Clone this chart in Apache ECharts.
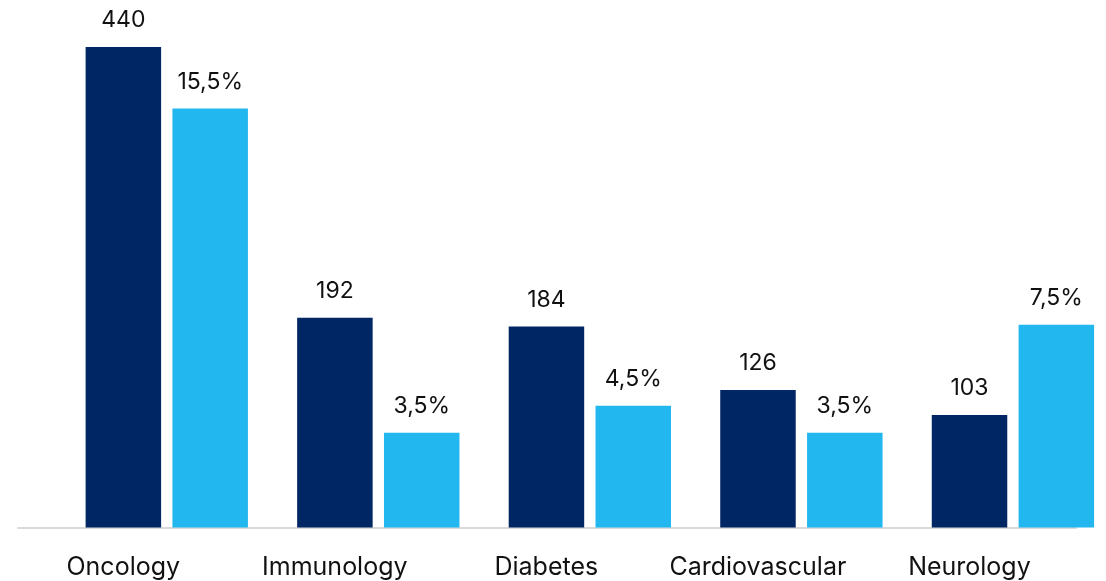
<!DOCTYPE html>
<html>
<head>
<meta charset="utf-8">
<script src="https://cdn.jsdelivr.net/npm/echarts@6/dist/echarts.min.js"></script>
<style>html,body{margin:0;padding:0;background:#fff;}#c{width:1106px;height:581px;}</style>
</head>
<body>
<div id="c"></div>
<script>
const categories = ['Oncology', 'Immunology', 'Diabetes', 'Cardiovascular', 'Neurology'];
const counts = [440, 192, 184, 126, 103];
const shares = [15.5, 3.5, 4.5, 3.5, 7.5];

const FONT = 'Inter';
const chart = echarts.init(document.getElementById('c'), null, {renderer: 'canvas'});
chart.setOption({
  animation: false,
  grid: [
    {left: 61, width: 1057.7, top: 47, bottom: 53.5, containLabel: false, outerBoundsMode: 'none'},
    {left: 18, right: 30, top: 47, bottom: 53.5, containLabel: false, outerBoundsMode: 'none'}
  ],
  xAxis: [
    {
      type: 'category', gridIndex: 0, data: categories,
      axisLine: {show: false}, axisTick: {show: false},
      axisLabel: {
        interval: 0, hideOverlap: false,
        margin: 27, color: '#111', fontFamily: FONT, fontSize: 25,
        align: 'center', padding: [0, 87, 0, 0]
      }
    },
    {
      type: 'category', gridIndex: 1, data: categories,
      axisLine: {show: true, lineStyle: {color: '#d9d9d9', width: 2}},
      axisTick: {show: false}, axisLabel: {show: false}
    }
  ],
  yAxis: [
    {type: 'value', gridIndex: 0, min: 0, max: 440, show: false, splitLine: {show: false}},
    {type: 'value', gridIndex: 0, min: 0, max: 17.77, show: false, splitLine: {show: false}},
    {type: 'value', gridIndex: 1, min: 0, max: 1, show: false, splitLine: {show: false}}
  ],
  series: [
    {
      type: 'bar', xAxisIndex: 0, yAxisIndex: 0, data: counts,
      barWidth: 75.5, barGap: '15%',
      itemStyle: {color: '#002663'},
      label: {show: true, position: 'top', distance: 15, color: '#111', fontFamily: FONT, fontSize: 23}
    },
    {
      type: 'bar', xAxisIndex: 0, yAxisIndex: 1, data: shares,
      barWidth: 75.5, barGap: '15%',
      itemStyle: {color: '#22b8ef'},
      label: {
        show: true, position: 'top', distance: 15, color: '#111', fontFamily: FONT, fontSize: 23,
        formatter: p => String(p.value).replace('.', ',') + '%'
      }
    }
  ]
});
</script>
</body>
</html>
